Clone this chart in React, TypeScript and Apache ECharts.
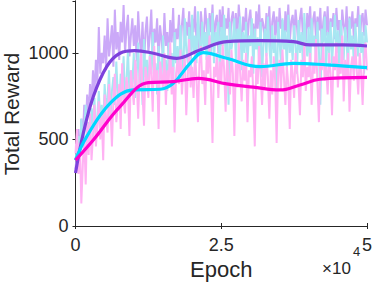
import React, { useEffect, useRef } from "react";
import * as echarts from "echarts";

const EPOCH_STEP = 250;

const rawPurple = [
  330, 420, 560, 380, 620, 500, 700, 560, 760, 650,
  820, 700, 900, 760, 960, 820, 1150, 880, 1000, 940,
  1100, 900, 1200, 980, 1060, 1160, 920, 1250, 1020, 1120,
  960, 1180, 1060, 1277, 1000, 1140, 1220, 980, 1100, 1200,
  1040, 1160, 950, 1240, 1080, 1000, 1180, 920, 1120, 1210,
  1000, 1100, 1250, 960, 1140, 1060, 1200, 940, 1160, 1080,
  980, 1230, 1040, 1120, 960, 1190, 1060, 1260, 1000, 1140,
  1080, 1220, 980, 1160, 1260, 1040, 1180, 1100, 1240, 1020,
  1200, 1120, 1270, 1060, 1180, 1000, 1240, 1140, 1080, 1260,
  1160, 1040, 1230, 1120, 1280, 1060, 1180, 1220, 1000, 1250,
  1120, 1270, 1060, 1200, 1140, 1260, 1040, 1190, 1240, 1100,
  1230, 1080, 1280, 1160, 1020, 1210, 1130, 1260, 1060, 1190,
  1250, 1100, 1170, 1040, 1240, 1140, 1280, 1080, 1200, 1160,
  1060, 1230, 1120, 1270, 1000, 1180, 1240, 1100, 1210, 1050,
  1260, 1140, 1190, 1030, 1240, 1120, 1280, 1060, 1180, 1220,
  1090, 1250, 1150, 1020, 1200, 1260, 1100, 1170, 1040, 1230,
  1140, 1270, 1060, 1190, 1240, 1080, 1210, 1130, 1260, 1020,
  1180, 1240, 1100, 1270, 1050, 1200, 1150, 1230, 1080, 1260,
  1130, 1190, 1020, 1250, 1160, 1100, 1270, 1060, 1210, 1140,
  1240, 1080, 1200, 1150, 1270, 1030, 1190, 1230, 1100, 1250,
  1160,
];

const rawCyan = [
  380, 450, 520, 400, 620, 480, 560, 700, 450, 600,
  520, 680, 580, 740, 500, 640, 780, 600, 700, 560,
  820, 680, 740, 900, 620, 780, 860, 700, 950, 760,
  680, 880, 800, 980, 720, 840, 1020, 760, 900, 820,
  1000, 740, 880, 1060, 800, 920, 700, 1080, 860, 960,
  780, 1000, 880, 1120, 820, 940, 760, 1040, 900, 840,
  1100, 860, 960, 780, 1060, 900, 1000, 820, 1120, 940,
  1040, 880, 1160, 980, 900, 1200, 1020, 940, 1150, 880,
  1220, 1000, 1100, 940, 1240, 1060, 980, 1180, 1020, 1120,
  960, 1200, 1080, 1000, 1230, 940, 1120, 1060, 1180, 900,
  1150, 1040, 1220, 980, 1100, 700, 1180, 1020, 1080, 1200,
  960, 1140, 1060, 1210, 900, 1120, 1000, 1180, 940, 1100,
  1040, 1200, 880, 1140, 1020, 1090, 940, 1180, 860, 1060,
  1140, 980, 1210, 1040, 920, 1160, 1000, 1100, 680, 1180,
  1060, 940, 1200, 1020, 1130, 900, 1220, 1000, 1080, 960,
  1160, 1040, 880, 1190, 1000, 1120, 940, 1230, 1060, 980,
  1150, 900, 1200, 1040, 1100, 960, 1180, 1020, 700, 1140,
  1060, 1210, 920, 1120, 1000, 1180, 940, 1080, 1220, 1000,
  1130, 880, 1190, 1040, 960, 1150, 1060, 900, 1200, 1020,
  1100, 940, 1170, 1040, 980, 1220, 1000, 1120, 880, 1160,
  1060,
];

const rawPink = [
  420, 560, 300, 480, 130, 350, 520, 240, 600, 410,
  650, 380, 520, 700, 460, 580, 720, 500, 640, 380,
  760, 620, 540, 820, 680, 460, 740, 880, 600, 700,
  820, 560, 940, 720, 650, 860, 780, 520, 900, 800,
  700, 960, 840, 620, 880, 1000, 760, 580, 920, 850,
  740, 980, 880, 660, 1040, 820, 900, 560, 950, 870,
  790, 1000, 700, 900, 840, 1060, 760, 920, 540, 880,
  960, 820, 1020, 760, 900, 980, 640, 860, 1080, 800,
  920, 740, 1000, 860, 600, 940, 1040, 820, 900, 700,
  980, 880, 1100, 780, 480, 920, 860, 1000, 740, 950,
  820, 1050, 900, 660, 980, 860, 760, 1020, 880, 520,
  940, 800, 1060, 880, 720, 960, 840, 1000, 600, 900,
  860, 980, 760, 460, 920, 820, 1040, 880, 700, 940,
  800, 1000, 860, 620, 900, 760, 980, 840, 480, 880,
  960, 780, 1020, 860, 700, 920, 820, 560, 960, 880,
  740, 1000, 900, 820, 640, 960, 860, 1060, 780, 920,
  860, 1000, 700, 940, 880, 1080, 820, 600, 960, 900,
  1040, 840, 920, 760, 1000, 880, 640, 980, 900, 1060,
  800, 940, 880, 1100, 720, 960, 860, 1000, 660, 920,
  980, 840, 1040, 900, 760, 1000, 880, 700, 960, 1060,
  900,
];

const smoothPurple: [number, number][] = [
  [0, 306], [1340, 536], [3050, 747], [5350, 921], [7630, 998], [10200, 1013],
  [13350, 998], [17360, 969], [21360, 1017], [25930, 1065], [31650, 1071],
  [37360, 1065], [40220, 1046], [45930, 1046], [50000, 1040],
];

const smoothCyan: [number, number][] = [
  [0, 381], [1920, 516], [5920, 709], [9910, 786], [14490, 790], [16780, 825],
  [19640, 940], [21920, 1002], [25940, 969], [31650, 921], [37360, 940],
  [43090, 931], [50000, 915],
];

const smoothMagenta: [number, number][] = [
  [0, 381], [3050, 497], [7630, 690], [12490, 828], [16780, 834], [21060, 853],
  [25940, 821], [30500, 802], [35080, 786], [38500, 815], [41930, 848],
  [50000, 859],
];

const xTicks = [0, 25000, 50000];
const yTicks = [0, 500, 1000];
const Y_MAX = 1300;

const toPairs = (arr: number[]) => arr.map((v, i) => [i * EPOCH_STEP, v]);

export default function App() {
  const ref = useRef<HTMLDivElement>(null);
  useEffect(() => {
    if (!ref.current) return;
    const chart = echarts.init(ref.current, undefined, { renderer: "svg" });
    const font = "Liberation Sans, Helvetica, Arial, sans-serif";
    const axisColor = "#262626";
    const xBase = {
      type: "value",
      min: xTicks[0],
      max: xTicks[xTicks.length - 1],
      interval: xTicks[1] - xTicks[0],
      splitLine: { show: false },
    };
    const yBase = {
      type: "value",
      min: 0,
      max: Y_MAX,
      interval: yTicks[1] - yTicks[0],
      splitLine: { show: false },
    };
    const rawLine = (data: number[], color: string, z: number) => ({
      type: "line",
      data: toPairs(data),
      showSymbol: false,
      lineStyle: { color, width: 2 },
      itemStyle: { color },
      clip: true,
      z,
    });
    const smoothLine = (data: [number, number][], color: string, z: number) => ({
      type: "line",
      data,
      smooth: 0.4,
      showSymbol: false,
      lineStyle: { color, width: 3.2 },
      itemStyle: { color },
      z,
    });
    chart.setOption({
      animation: false,
      textStyle: { fontFamily: font },
      grid: {
        left: 75.5,
        right: 7,
        top: 1,
        bottom: 58,
        containLabel: false,
        outerBoundsMode: "none",
      },
      xAxis: [
        {
          ...xBase,
          axisLine: { show: true, lineStyle: { color: axisColor, width: 1 } },
          axisTick: { show: true, inside: true, length: 3, lineStyle: { color: axisColor } },
          axisLabel: {
            color: axisColor,
            fontSize: 18,
            fontFamily: font,
            margin: 10,
            formatter: (v: number) => String(v / 10000),
          },
          name: "Epoch",
          nameLocation: "middle",
          nameGap: 29,
          nameTextStyle: { color: axisColor, fontSize: 22, fontFamily: font },
        },
        {
          ...xBase,
          position: "top",
          axisLine: { show: true, lineStyle: { color: axisColor, width: 1 } },
          axisTick: { show: true, inside: true, length: 3, lineStyle: { color: axisColor } },
          axisLabel: { show: false },
        },
      ],
      yAxis: [
        {
          ...yBase,
          axisLine: { show: true, lineStyle: { color: axisColor, width: 1 } },
          axisTick: { show: true, inside: true, length: 3, lineStyle: { color: axisColor } },
          axisLabel: {
            color: axisColor,
            fontSize: 18,
            fontFamily: font,
            margin: 7,
            showMaxLabel: false,
            formatter: (v: number) => (v > yTicks[yTicks.length - 1] ? "" : String(v)),
          },
        },
        {
          ...yBase,
          position: "right",
          axisLine: { show: true, lineStyle: { color: axisColor, width: 1 } },
          axisTick: { show: true, inside: true, length: 3, lineStyle: { color: axisColor } },
          axisLabel: { show: false },
        },
      ],
      graphic: [
        {
          type: "text",
          x: 11.5,
          y: 114,
          rotation: Math.PI / 2,
          style: {
            text: "Total Reward",
            fontSize: 21,
            fontFamily: font,
            fill: axisColor,
            align: "center",
            verticalAlign: "middle",
          },
        },
        {
          type: "text",
          left: 322,
          top: 260,
          style: { text: "×10", fontSize: 17, fontFamily: font, fill: axisColor },
        },
        {
          type: "text",
          left: 353,
          top: 245,
          style: { text: "4", fontSize: 13, fontFamily: font, fill: axisColor },
        },
      ],
      series: [
        rawLine(rawPurple, "#cba9f8", 1),
        rawLine(rawCyan, "#a8e7f2", 2),
        rawLine(rawPink, "#ffb2f3", 3),
        smoothLine(smoothPurple, "#7d41dc", 4),
        smoothLine(smoothCyan, "#00d8ff", 5),
        smoothLine(smoothMagenta, "#ff00cc", 6),
      ],
    });
    return () => chart.dispose();
  }, []);
  return (
    <div
      ref={ref}
      style={{ position: "absolute", left: 0, top: 0, width: 374, height: 284 }}
    />
  );
}
